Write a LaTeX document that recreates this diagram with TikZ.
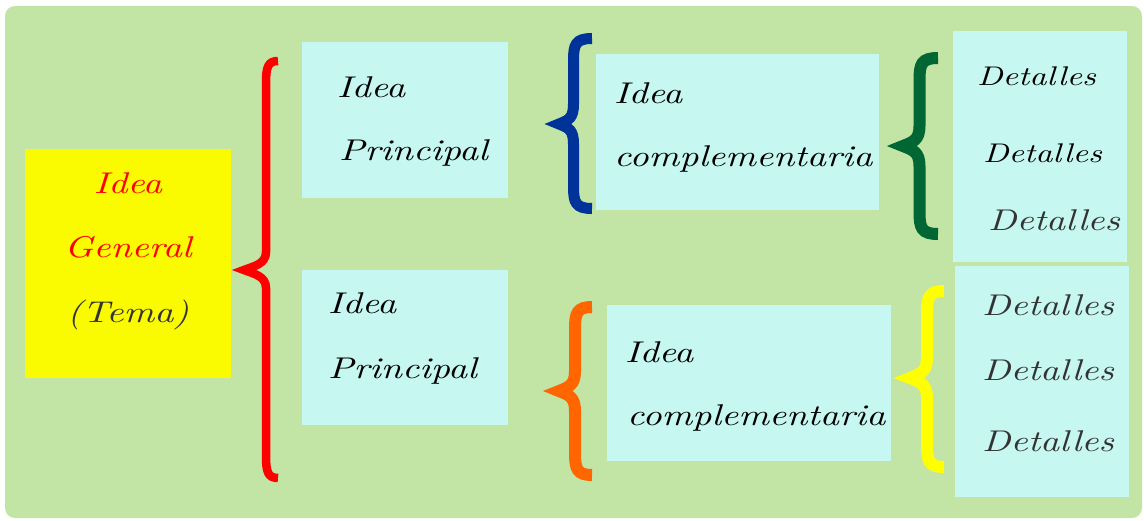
\documentclass[tikz,border=0pt]{standalone}
\usepackage{fontspec}
\newfontfamily\hand[Extension=.otf, FakeStretch=1.25]{lmroman10-italic}
\usepackage{xcolor}
\usepackage{tikz}

\definecolor{bggreen}{HTML}{C2E5A5}
\definecolor{boxcyan}{HTML}{C6F7F1}
\definecolor{genyellow}{HTML}{FAFA00}
\definecolor{bracered}{HTML}{FF0000}
\definecolor{braceblue}{HTML}{003399}
\definecolor{bracegreen}{HTML}{006633}
\definecolor{braceorange}{HTML}{FF6600}
\definecolor{braceyellow}{HTML}{FFFF00}
\definecolor{inkgray}{HTML}{333333}

% curly brace: colour, width, stem x, end x, tip x, top y, tip y, bottom y, tip span
\newcommand{\curly}[9]{%
  \draw[#1, line width=#2pt, line join=miter, miter limit=20]
    (#4,#6) .. controls (#3+2,#6) and (#3,#6+6) .. (#3,#6+22)
    -- (#3,#7-#9) .. controls (#3,#7-6) and (#5+10,#7-4) .. (#5,#7)
    .. controls (#5+10,#7+4) and (#3,#7+6) .. (#3,#7+#9)
    -- (#3,#8-22) .. controls (#3,#8-6) and (#3+2,#8) .. (#4,#8);}

\begin{document}
\begin{tikzpicture}[
  x=1pt, y=-1pt,
  box/.style={fill=boxcyan, inner sep=0pt, anchor=north west},
  txt/.style={anchor=base west, inner sep=0pt,
              font=\fontsize{30}{36}\selectfont\hand},
  small/.style={font=\fontsize{27}{32}\selectfont\hand},
]
\useasboundingbox (0,0) rectangle (1144,520);
\fill[bggreen, rounded corners=10pt] (5,6) rectangle (1142,518);

% --- boxes ---
\node[box, fill=genyellow, minimum width=206pt, minimum height=229pt] (gen) at (25,149) {};
\node[box, minimum width=206pt, minimum height=156pt] (ip1) at (302,42) {};
\node[box, minimum width=206pt, minimum height=155pt] (ip2) at (302,270) {};
\node[box, minimum width=283pt, minimum height=156pt] (ic1) at (596,54) {};
\node[box, minimum width=284pt, minimum height=156pt] (ic2) at (607,305) {};
\node[box, minimum width=174pt, minimum height=231pt] (det1) at (953,31) {};
\node[box, minimum width=174pt, minimum height=231pt] (det2) at (955,266) {};

% --- braces ---
\curly{bracered}{8.5}{266}{278}{244}{61}{270}{478}{18}
\curly{braceblue}{11}{573.5}{592}{559}{38.5}{124}{208.5}{20}
\curly{braceorange}{12}{575}{592}{559}{307}{391}{475}{20}
\curly{bracegreen}{12}{919.5}{938}{903}{58}{146}{234}{20}
\curly{braceyellow}{12}{927}{944}{910}{291}{378}{467}{20}

% --- texts ---
\node[txt, anchor=base, text=bracered] (gen1) at (128,193) {Idea};
\node[txt, anchor=base, text=bracered] (gen2) at (128,257) {General};
\node[txt, anchor=base, text=inkgray] (gen3) at (128,322) {(Tema)};

\node[txt] (ip1a) at (337,97) {Idea};
\node[txt] (ip1b) at (339,160) {Principal};
\node[txt] (ip2a) at (328,313) {Idea};
\node[txt] (ip2b) at (328,378) {Principal};

\node[txt] (ic1a) at (614,103) {Idea};
\node[txt] (ic1b) at (614,166) {complementaria};
\node[txt] (ic2a) at (625,362) {Idea};
\node[txt] (ic2b) at (627,425) {complementaria};

\node[txt, small] (det1a) at (977,85) {Detalles};
\node[txt, small] (det1b) at (983,162) {Detalles};
\node[txt, text=inkgray] (det1c) at (988,230) {Detalles};
\node[txt, text=inkgray] (det2a) at (982,315) {Detalles};
\node[txt, text=inkgray] (det2b) at (982,380) {Detalles};
\node[txt, text=inkgray] (det2c) at (982,451) {Detalles};
\end{tikzpicture}
\end{document}
